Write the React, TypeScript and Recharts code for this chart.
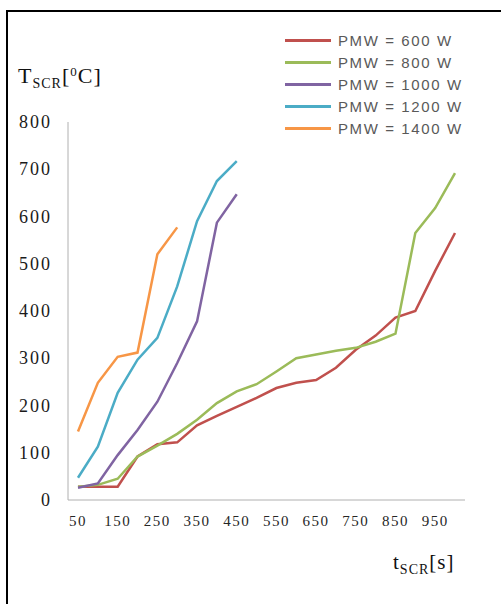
import { LineChart, Line, XAxis, YAxis, Legend } from "recharts"

const times = [50, 100, 150, 200, 250, 300, 350, 400, 450, 500, 550, 600, 650, 700, 750, 800, 850, 900, 950, 1000]
const p600 = [28, 28, 28, 92, 118, 122, 158, 178, 197, 216, 237, 248, 254, 280, 318, 348, 386, 400, 485, 565]
const p800 = [28, 32, 45, 92, 115, 140, 170, 205, 230, 245, 272, 300, 308, 316, 322, 335, 352, 565, 618, 692]
const p1000 = [26, 35, 95, 148, 208, 290, 378, 587, 647]
const p1200 = [47, 113, 227, 297, 343, 452, 590, 675, 717]
const p1400 = [145, 248, 303, 312, 520, 577]
const yTicks = [0, 100, 200, 300, 400, 500, 600, 700, 800]

const series = [
  { key: "p600", name: "PMW = 600 W", color: "#c0504d", values: p600 },
  { key: "p800", name: "PMW = 800 W", color: "#9bbb59", values: p800 },
  { key: "p1000", name: "PMW = 1000 W", color: "#8064a2", values: p1000 },
  { key: "p1200", name: "PMW = 1200 W", color: "#4bacc6", values: p1200 },
  { key: "p1400", name: "PMW = 1400 W", color: "#f79646", values: p1400 },
]

const data = times.map((t, i) => {
  const row: Record<string, number | undefined> = { t }
  series.forEach((s) => {
    row[s.key] = s.values[i]
  })
  return row
})

const serif = "'Liberation Serif', 'Times New Roman', serif"

const YTick = ({ x, y, payload }: any) => (
  <text x={x} y={y} dy={6} textAnchor="end" fontFamily={serif} fontSize={18} fill="#1a1a1a" letterSpacing={2}>
    {payload.value}
  </text>
)

const XTick = ({ x, y, payload }: any) => (
  <text x={x} y={y} dy={18} textAnchor="middle" fontFamily={serif} fontSize={15} fill="#262626" letterSpacing={1.5}>
    {payload.value}
  </text>
)

// keep the legend in series order
const order = (v: string) => series.findIndex((s) => s.name === v)

const renderLegend = ({ payload }: any) => (
  <div>
    {[...(payload || [])]
      .sort((a: any, b: any) => order(a.value) - order(b.value))
      .map((entry: any) => (
        <div key={entry.value} style={{ display: "flex", alignItems: "center", height: 22 }}>
          <div style={{ width: 46, height: 3, backgroundColor: entry.color, marginRight: 7 }} />
          <span
            style={{
              fontFamily: "'Liberation Sans', Arial, sans-serif",
              fontSize: 15,
              letterSpacing: 1.6,
              color: "#595959",
            }}
          >
            {entry.value}
          </span>
        </div>
      ))}
  </div>
)

export default function App() {
  return (
    <div style={{ position: "fixed", inset: 0, overflow: "hidden", background: "#fff" }}>
      <style>{"html,body{margin:0;overflow:hidden;background:#fff}"}</style>
      <div style={{ position: "absolute", left: 6, top: 10, width: 600, height: 2, background: "#000" }} />
      <div style={{ position: "absolute", left: 6, top: 10, width: 2, height: 700, background: "#000" }} />
      <div style={{ position: "absolute", left: 0, top: 0 }}>
        <LineChart width={501} height={604} data={data} margin={{ top: 122, right: 36, bottom: 74, left: 0 }}>
          <XAxis
            dataKey="t"
            interval={1}
            tickLine={false}
            padding={{ left: 10, right: 10 }}
            axisLine={{ stroke: "#b0b0b0" }}
            tick={<XTick />}
            tickMargin={2}
          />
          <YAxis
            domain={[0, 800]}
            ticks={yTicks}
            width={68}
            tickLine={false}
            axisLine={{ stroke: "#b0b0b0" }}
            tick={<YTick />}
            tickMargin={10}
          />
          <Legend
            layout="horizontal"
            verticalAlign="middle"
            align="center"
            content={renderLegend}
            wrapperStyle={{ position: "absolute", top: 29, left: 285, width: 210 }}
          />
          {series.map((s) => (
            <Line
              key={s.key}
              dataKey={s.key}
              name={s.name}
              stroke={s.color}
              strokeWidth={2.5}
              dot={false}
              isAnimationActive={false}
            />
          ))}
        </LineChart>
      </div>
      <div style={{ position: "absolute", left: 18, top: 64, fontFamily: serif, fontSize: 22, lineHeight: "24px", letterSpacing: 1, color: "#111" }}>
        T<span style={{ fontSize: 14, position: "relative", top: 5 }}>SCR</span>[
        <span style={{ fontSize: 13, position: "relative", top: -7 }}>0</span>C]
      </div>
      <div style={{ position: "absolute", left: 393, top: 550, fontFamily: serif, fontSize: 21, lineHeight: "24px", letterSpacing: 1, color: "#111" }}>
        t<span style={{ fontSize: 14, position: "relative", top: 5 }}>SCR</span>[s]
      </div>
    </div>
  )
}
